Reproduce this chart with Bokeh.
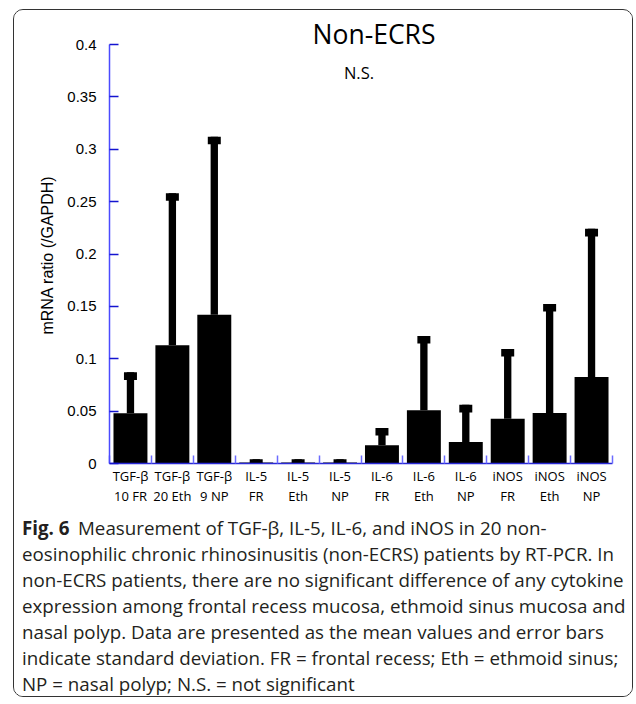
import numpy as np
from bokeh.plotting import figure
from bokeh.layouts import column, row
from bokeh.models import (Range1d, FixedTicker, NumeralTickFormatter, Label,
                          ColumnDataSource, LinearAxis)
from bokeh.embed import file_html
from bokeh.resources import INLINE

# ---- data ----
categories = ["TGF-β\n10 FR", "TGF-β\n20 Eth", "TGF-β\n9 NP",
              "IL-5\nFR", "IL-5\nEth", "IL-5\nNP",
              "IL-6\nFR", "IL-6\nEth", "IL-6\nNP",
              "iNOS\nFR", "iNOS\nEth", "iNOS\nNP"]
means = [0.048, 0.113, 0.142, 0.001, 0.001, 0.001,
         0.0174, 0.0508, 0.0205, 0.0428, 0.0482, 0.0826]
sds = [0.039, 0.145, 0.170, 0.003, 0.003, 0.003,
       0.0166, 0.071, 0.0355, 0.0666, 0.104, 0.1414]
y_ticks = [0, 0.05, 0.1, 0.15, 0.2, 0.25, 0.3, 0.35, 0.4]

title_text = "Non-ECRS"
ns_text = "N.S."
y_label = "mRNA ratio (/GAPDH)"
caption_bold = "Fig. 6"
caption_lines = [
    "Measurement of TGF-β, IL-5, IL-6, and iNOS in 20 non-",
    "eosinophilic chronic rhinosinusitis (non-ECRS) patients by RT-PCR. In",
    "non-ECRS patients, there are no significant difference of any cytokine",
    "expression among frontal recess mucosa, ethmoid sinus mucosa and",
    "nasal polyp. Data are presented as the mean values and error bars",
    "indicate standard deviation. FR = frontal recess; Eth = ethmoid sinus;",
    "NP = nasal polyp; N.S. = not significant",
]

n = len(categories)
xc = np.arange(n) + 0.5
upper = np.array(means) + np.array(sds)
CAP_H = 0.0072
src = ColumnDataSource(dict(x=xc, mean=means, upper=upper, capb=upper - CAP_H))

# ---- geometry (page pixels) ----
OX, OY = 14.5, 10.5          # inner top-left of the rounded box
W = 618
LW = 45                      # width of the y-label strip
W1 = W - LW
FRAME_W, FRAME_H = 503, 451
Y_MAX_AXIS = 0.4
PX_PER_UNIT = 419 / Y_MAX_AXIS
Y_END = FRAME_H / PX_PER_UNIT
MB_LEFT, MB_TOP, MB_BOTTOM = 50, 2, 48
H1 = MB_TOP + FRAME_H + MB_BOTTOM
H2 = 185

def blank(fig):
    fig.frame_align = False
    fig.xgrid.visible = False
    fig.ygrid.visible = False
    fig.outline_line_color = None
    fig.background_fill_color = "white"
    fig.border_fill_color = "white"

p = figure(width=W1, height=H1, frame_width=FRAME_W, frame_height=FRAME_H,
           min_border_left=MB_LEFT, min_border_right=W1 - MB_LEFT - FRAME_W,
           min_border_top=MB_TOP, min_border_bottom=MB_BOTTOM,
           x_range=Range1d(0, n), y_range=Range1d(0, Y_END),
           output_backend="svg", toolbar_location=None,
           x_axis_location=None, y_axis_location=None)
blank(p)

xaxis = LinearAxis(ticker=FixedTicker(ticks=list(xc), minor_ticks=list(np.arange(n + 1))),
                   major_label_overrides={float(x): c for x, c in zip(xc, categories)})
xaxis.axis_line_color = "#2a2ad6"
xaxis.axis_line_width = 1.5
xaxis.major_tick_in = 0
xaxis.major_tick_out = 0
xaxis.minor_tick_in = 8
xaxis.minor_tick_out = 0
xaxis.minor_tick_line_color = "#6b6bff"
xaxis.minor_tick_line_width = 1.5
xaxis.major_label_standoff = 3
xaxis.major_label_text_font = "Open Sans"
xaxis.major_label_text_font_size = "13px"
xaxis.major_label_text_line_height = 1.15
xaxis.major_label_text_color = "black"
p.add_layout(xaxis, "below")

yaxis = LinearAxis(ticker=FixedTicker(ticks=y_ticks, minor_ticks=[]),
                   formatter=NumeralTickFormatter(format="0.[00]"),
                   bounds=(0, Y_MAX_AXIS))
yaxis.axis_line_color = "#4a4aff"
yaxis.axis_line_width = 1.5
yaxis.major_tick_in = 9
yaxis.major_tick_out = 0
yaxis.major_tick_line_color = "#1414d0"
yaxis.major_tick_line_width = 1.5
yaxis.minor_tick_line_color = None
yaxis.major_label_standoff = 13
yaxis.major_label_text_font = "Liberation Sans"
yaxis.major_label_text_font_size = "15px"
yaxis.major_label_text_color = "black"
p.add_layout(yaxis, "left")

# bars
p.vbar(x="x", top="mean", bottom=0, width=0.81, source=src,
       fill_color="black", line_color=None)
# error stems
p.vbar(x="x", top="upper", bottom="mean", width=0.175, source=src,
       fill_color="black", line_color=None)
# caps
p.vbar(x="x", top="upper", bottom="capb", width=0.31, source=src,
       fill_color="black", line_color=None)

frame_left_page = OX + LW + MB_LEFT
frame_bottom_page = OY + MB_TOP + FRAME_H
cat_w = FRAME_W / n

def dx(page_x):
    return (page_x - frame_left_page) / cat_w

def dy(page_y):
    return (frame_bottom_page - page_y) / PX_PER_UNIT

p.add_layout(Label(x=dx(374), y=dy(34), text=title_text, text_font="Open Sans",
                   text_font_size="26.5px", text_align="center",
                   text_baseline="middle", text_color="black"))
p.add_layout(Label(x=dx(359), y=dy(72), text=ns_text, text_font="Open Sans",
                   text_font_size="16.5px", text_align="center",
                   text_baseline="middle", text_color="black"))

# ---- y-axis title strip ----
pl = figure(width=LW, height=H1, min_border=0,
            x_range=Range1d(0, LW), y_range=Range1d(0, H1),
            output_backend="svg", toolbar_location=None,
            x_axis_location=None, y_axis_location=None)
blank(pl)
pl.add_layout(Label(x=47 - OX, y=H1 - (255 - OY), text=y_label,
                    text_font="Liberation Sans", text_font_size="16px",
                    angle=np.pi / 2, text_align="center", text_baseline="middle",
                    text_color="black"))

# ---- caption figure ----
p2 = figure(width=W, height=H2, min_border=0,
            x_range=Range1d(0, W), y_range=Range1d(H2, 0),
            output_backend="svg", toolbar_location=None,
            x_axis_location=None, y_axis_location=None)
blank(p2)

CAP_TOP_PAGE = OY + H1
cap_color = "#231f20"
line_y0 = 527
line_dy = 26.0
FS = "18.75px"

def cxp(page_x):
    return page_x - OX

def cyp(page_y):
    return page_y - CAP_TOP_PAGE

p2.add_layout(Label(x=cxp(22), y=cyp(line_y0), text=caption_bold, text_font="Open Sans",
                    text_font_size=FS, text_font_style="bold", text_align="left",
                    text_baseline="middle", text_color=cap_color))
for i, line in enumerate(caption_lines):
    x0 = 78 if i == 0 else 22
    p2.add_layout(Label(x=cxp(x0), y=cyp(line_y0 + i * line_dy), text=line,
                        text_font="Open Sans", text_font_size=FS, text_align="left",
                        text_baseline="middle", text_color=cap_color))

layout = column(row(pl, p, spacing=0), p2, spacing=0,
                styles={"border": "1.5px solid #333333", "border-radius": "10px",
                        "margin-left": "13px", "margin-top": "9px",
                        "overflow": "hidden", "background-color": "white"})

open("out.html", "w").write(file_html(layout, INLINE))
